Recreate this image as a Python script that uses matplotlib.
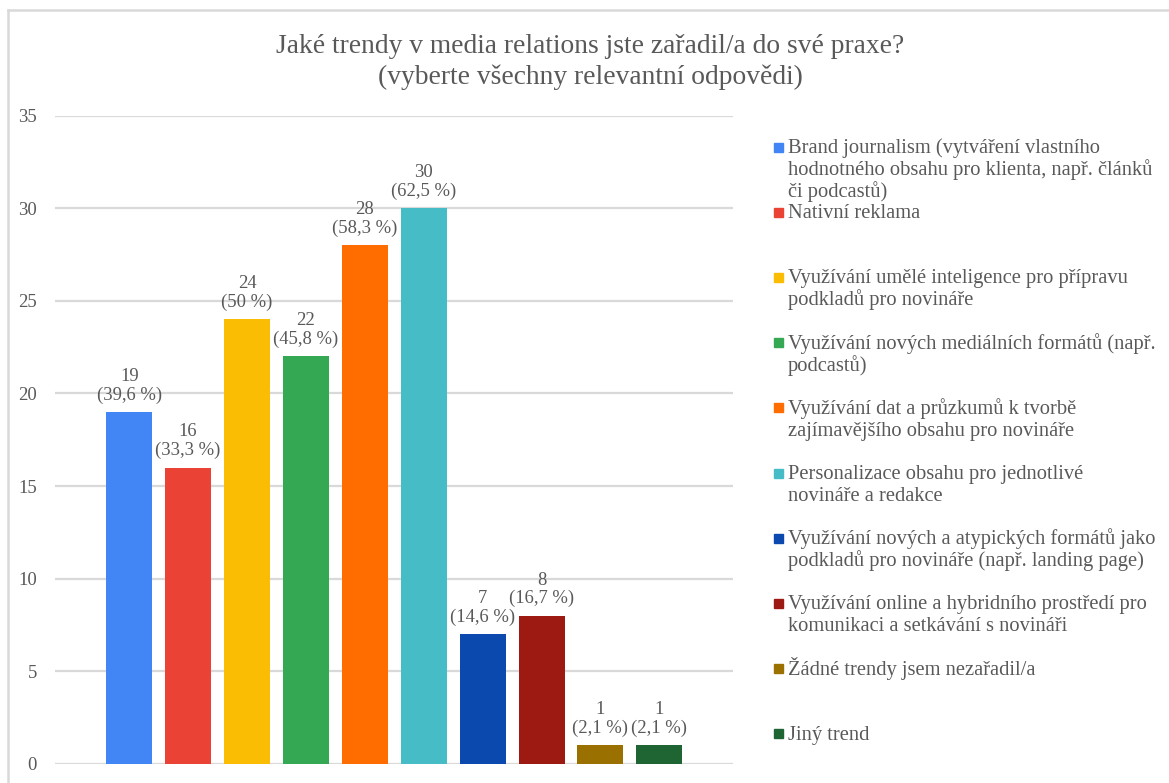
import matplotlib
matplotlib.use("Agg")
import matplotlib.pyplot as plt
from matplotlib.patches import Rectangle
from matplotlib.lines import Line2D

# ---- data ----
categories = [
    "Brand journalism (vytváření vlastního\nhodnotného obsahu pro klienta, např. článků\nči podcastů)",
    "Nativní reklama",
    "Využívání umělé inteligence pro přípravu\npodkladů pro novináře",
    "Využívání nových mediálních formátů (např.\npodcastů)",
    "Využívání dat a průzkumů k tvorbě\nzajímavějšího obsahu pro novináře",
    "Personalizace obsahu pro jednotlivé\nnovináře a redakce",
    "Využívání nových a atypických formátů jako\npodkladů pro novináře (např. landing page)",
    "Využívání online a hybridního prostředí pro\nkomunikaci a setkávání s novináři",
    "Žádné trendy jsem nezařadil/a",
    "Jiný trend",
]
counts = [19, 16, 24, 22, 28, 30, 7, 8, 1, 1]
pct_labels = ["39,6", "33,3", "50", "45,8", "58,3", "62,5", "14,6", "16,7", "2,1", "2,1"]
colors = ["#4285F4", "#EA4335", "#FBBC04", "#34A853", "#FF6D01",
          "#46BDC6", "#0B49AF", "#9C1A12", "#9A7100", "#1E6533"]
yticks = [0, 5, 10, 15, 20, 25, 30, 35]
title_lines = ["Jaké trendy v media relations jste zařadil/a do své praxe?",
               "(vyberte všechny relevantní odpovědi)"]

TXT = "#595959"
FONT = "Liberation Serif"
W, H = 1169, 783

fig = plt.figure(figsize=(W / 100, H / 100), dpi=100)
fig.patch.set_facecolor("white")

def fx(px):
    return px / W

def fy(py):
    return 1 - py / H

# chart border (top & left)
fig.add_artist(Line2D([fx(8), fx(1169)], [fy(10), fy(10)], color="#d9d9d9", lw=1.8))
fig.add_artist(Line2D([fx(8), fx(8)], [fy(10), fy(783)], color="#d9d9d9", lw=1.8))

# axes
left, right, top, bottom = 55, 733, 115.5, 764
ax = fig.add_axes([fx(left), fy(bottom), fx(right) - fx(left), (bottom - top) / H])
xs = list(range(len(counts)))
ax.bar(xs, counts, width=0.78, color=colors, zorder=3)
ax.set_xlim(-1.26, 10.25)
ax.set_ylim(0, 35)
ax.set_yticks(yticks)
ax.set_yticklabels([str(t) for t in yticks], fontfamily=FONT, fontsize=13.5, color=TXT)
ax.tick_params(axis="y", length=0, pad=13)
ax.set_xticks([])
for s in ax.spines.values():
    s.set_visible(False)
ax.yaxis.grid(True, color="#d9d9d9", lw=1.6, zorder=0)
ax.set_axisbelow(True)

for x, c, p in zip(xs, counts, pct_labels):
    ax.annotate(f"{c}\n({p} %)", xy=(x, c), xytext=(0, 6), textcoords="offset points",
                ha="center", va="bottom", fontfamily=FONT, fontsize=13.4, color=TXT,
                linespacing=1.12)

# title
fig.text(fx(590), fy(53), title_lines[0], ha="center", va="baseline",
         fontfamily=FONT, fontsize=19.8, color=TXT)
fig.text(fx(590), fy(84), title_lines[1], ha="center", va="baseline",
         fontfamily=FONT, fontsize=19.8, color=TXT)

# legend (manual, Excel-style fixed slots)
slot0, slot_step, line_step = 147, 65.2, 22
for i, (lab, col) in enumerate(zip(categories, colors)):
    yc = slot0 + i * slot_step
    fig.add_artist(Rectangle((fx(774), fy(yc + 4.5)), 9 / W, 9 / H, color=col,
                             transform=fig.transFigure))
    for j, line in enumerate(lab.split("\n")):
        fig.text(fx(788), fy(yc + 6 + j * line_step), line, ha="left", va="baseline",
                 fontfamily=FONT, fontsize=14.8, color=TXT)

fig.savefig("out.png", dpi=100, facecolor="white")
